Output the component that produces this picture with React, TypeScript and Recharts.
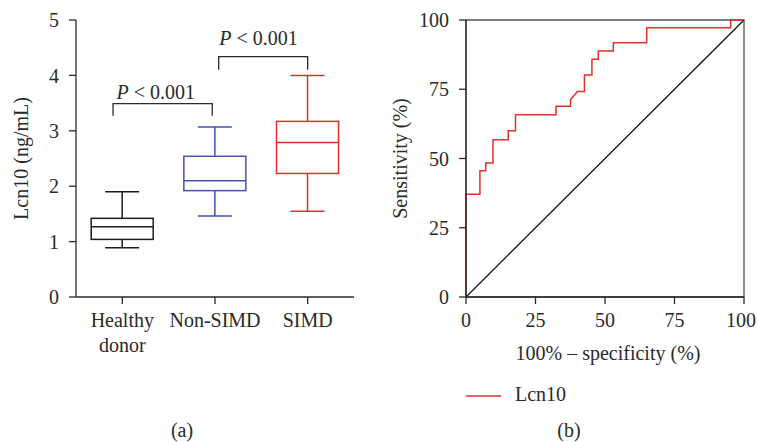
import React from 'react';
import {
  ComposedChart, Bar, Line, XAxis, YAxis, ReferenceDot, ReferenceArea, Legend,
} from 'recharts';

// ---------- Panel (a): box plot data ----------
const groups = ['Healthy donor', 'Non-SIMD', 'SIMD'];
const groupPos = [0.5, 1.5, 2.5];
const minVals = [0.89, 1.46, 1.55];
const q1Vals = [1.04, 1.92, 2.23];
const medianVals = [1.27, 2.1, 2.79];
const q3Vals = [1.42, 2.54, 3.17];
const maxVals = [1.9, 3.07, 4.0];
const yTicksA = [0, 1, 2, 3, 4, 5];

// significance brackets (x in group units, y in ng/mL)
const bracket1X = [0.4, 0.4, 1.47, 1.47];
const bracket1Y = [3.27, 3.49, 3.49, 3.27];
const bracket2X = [1.54, 1.54, 2.5, 2.5];
const bracket2Y = [4.1, 4.34, 4.34, 4.1];
const pLabelX = [0.86, 1.97];
const pLabelY = [3.57, 4.55];
const pLabelText = ['0.001', '0.001'];

// ---------- Panel (b): ROC data ----------
const rocFpr = [0, 0, 5.0, 5.0, 7.1, 7.1, 9.7, 9.7, 15.2, 15.2, 17.8, 17.8, 32.4, 32.4, 37.6, 37.6, 40.1, 42.6, 42.6, 45.3, 45.3, 47.6, 47.6, 53.0, 53.0, 65.0, 65.0, 95.2, 95.2, 100];
const rocTpr = [0, 37.1, 37.1, 45.6, 45.6, 48.4, 48.4, 56.8, 56.8, 60.0, 60.0, 65.8, 65.8, 68.9, 68.9, 71.3, 74.2, 74.2, 80.1, 80.1, 85.8, 85.8, 88.8, 88.8, 91.8, 91.8, 97.2, 97.2, 100, 100];
const refFpr = [0, 100];
const refTpr = [0, 100];
const ticksB = [0, 25, 50, 75, 100];

const boxColors = ['#1c1c1c', '#4751b3', '#e1312b'];
const RED = '#e1312b';
const AXIS = '#2a2a2a';
const FONT = '"Liberation Serif", "Times New Roman", serif';
const BOX_W = 62;
const CAP_W = 34;
const RIGHT_W = 377;

const boxData = groups.map((g, i) => ({
  name: g,
  pos: groupPos[i],
  range: [minVals[i], maxVals[i]],
  min: minVals[i],
  q1: q1Vals[i],
  median: medianVals[i],
  q3: q3Vals[i],
  max: maxVals[i],
}));
const bracket1 = bracket1X.map((x, i) => ({ pos: x, y: bracket1Y[i] }));
const bracket2 = bracket2X.map((x, i) => ({ pos: x, y: bracket2Y[i] }));
const rocData = rocFpr.map((x, i) => ({ fpr: x, tpr: rocTpr[i] }));
const refData = refFpr.map((x, i) => ({ fpr: x, tpr: refTpr[i] }));

function BoxShape(props: any) {
  const { x, y, width, height, payload, index } = props;
  if (!payload) return null;
  const top = Math.min(y, y + height);
  const h = Math.abs(height);
  const { min, q1, median, q3, max } = payload;
  const toY = (v: number) => top + ((max - v) / (max - min)) * h;
  const cx = x + width / 2;
  const bx = cx - BOX_W / 2;
  const color = boxColors[index % boxColors.length];
  return (
    <g stroke={color} strokeWidth={1.5} fill="none">
      <line x1={cx - CAP_W / 2} x2={cx + CAP_W / 2} y1={toY(max)} y2={toY(max)} />
      <line x1={cx} x2={cx} y1={toY(max)} y2={toY(q3)} />
      <rect x={bx} y={toY(q3)} width={BOX_W} height={toY(q1) - toY(q3)} />
      <line x1={bx} x2={bx + BOX_W} y1={toY(median)} y2={toY(median)} />
      <line x1={cx} x2={cx} y1={toY(q1)} y2={toY(min)} />
      <line x1={cx - CAP_W / 2} x2={cx + CAP_W / 2} y1={toY(min)} y2={toY(min)} />
    </g>
  );
}

function GroupTick(props: any) {
  const { x, y, payload } = props;
  const idx = groupPos.indexOf(payload.value);
  const name = idx >= 0 ? groups[idx] : '';
  const lines = name.split(' ');
  return (
    <text x={x} y={y} textAnchor="middle" fill={AXIS} fontSize={20} fontFamily={FONT}>
      {lines.map((l, i) => (
        <tspan key={i} x={x} dy={i === 0 ? '0.71em' : 25}>{l}</tspan>
      ))}
    </text>
  );
}

// keeps the last label ("100") inside the picture's right edge
function EdgeTick(props: any) {
  const { x, y, payload } = props;
  const tx = Math.min(x, RIGHT_W - 16);
  return (
    <text x={tx} y={y} dy="0.71em" textAnchor="middle" fill={AXIS} fontSize={20} fontFamily={FONT}>
      {payload.value}
    </text>
  );
}

const tickStyle = { fill: AXIS, fontSize: 20, fontFamily: FONT };

function PLabel(text: string) {
  return (p: any) => (
    <text x={p.cx} y={p.cy} textAnchor="middle" fill={AXIS} fontSize={20} fontFamily={FONT}>
      <tspan fontStyle="italic">P</tspan>
      <tspan>{' < ' + text}</tspan>
    </text>
  );
}

function RocLegend(props: any) {
  const items = (props.payload || []).filter((e: any) => e.value === 'Lcn10');
  return (
    <svg width={110} height={26}>
      {items.map((e: any, i: number) => (
        <g key={i}>
          <line x1={0} x2={35} y1={12} y2={12} stroke={e.color} strokeWidth={1.5} />
          <text x={49} y={17} fill={AXIS} fontSize={20} fontFamily={FONT}>{e.value}</text>
        </g>
      ))}
    </svg>
  );
}

export default function App() {
  return (
    <div style={{ position: 'absolute', left: 0, top: 0, width: 757, height: 442, background: '#fff', fontFamily: FONT }}>
      <div style={{ position: 'absolute', left: 0, top: 0 }}>
        <ComposedChart width={380} height={442} data={boxData} margin={{ top: 20, right: 26, bottom: 85, left: 0 }}>
          <XAxis
            type="number"
            dataKey="pos"
            domain={[0, 3]}
            ticks={groupPos}
            tick={<GroupTick />}
            tickSize={7}
            tickMargin={9}
            height={60}
            axisLine={{ stroke: AXIS, strokeWidth: 1.3 }}
            tickLine={{ stroke: AXIS, strokeWidth: 1.3 }}
            interval={0}
            allowDataOverflow
          />
          <YAxis
            type="number"
            domain={[0, 5]}
            ticks={yTicksA}
            width={76}
            tickSize={7}
            tickMargin={10}
            tick={tickStyle}
            axisLine={{ stroke: AXIS, strokeWidth: 1.3 }}
            tickLine={{ stroke: AXIS, strokeWidth: 1.3 }}
            label={{ value: 'Lcn10 (ng/mL)', angle: -90, position: 'insideLeft', offset: 21, textAnchor: 'middle', fill: AXIS, fontSize: 20, fontFamily: FONT }}
          />
          <Bar dataKey="range" barSize={BOX_W} shape={<BoxShape />} isAnimationActive={false} />
          <Line data={bracket1} dataKey="y" type="linear" stroke={AXIS} strokeWidth={1.3} dot={false} activeDot={false} isAnimationActive={false} />
          <Line data={bracket2} dataKey="y" type="linear" stroke={AXIS} strokeWidth={1.3} dot={false} activeDot={false} isAnimationActive={false} />
          {pLabelX.map((px, i) => (
            <ReferenceDot key={i} x={px} y={pLabelY[i]} r={0} ifOverflow="visible" shape={PLabel(pLabelText[i])} />
          ))}
        </ComposedChart>
      </div>
      <div style={{ position: 'absolute', left: 380, top: 0 }}>
        <ComposedChart width={RIGHT_W} height={442} margin={{ top: 20, right: 13, bottom: 75, left: 0 }}>
          <XAxis
            type="number"
            dataKey="fpr"
            domain={[0, 100]}
            ticks={ticksB}
            tickSize={7}
            tickMargin={9}
            height={70}
            tick={<EdgeTick />}
            interval={0}
            axisLine={{ stroke: AXIS, strokeWidth: 1.3 }}
            tickLine={{ stroke: AXIS, strokeWidth: 1.3 }}
            label={{ value: '100% \u2013 specificity (%)', position: 'insideBottom', offset: 7, dx: 3, fill: AXIS, fontSize: 20, fontFamily: FONT }}
          />
          <YAxis
            type="number"
            domain={[0, 100]}
            ticks={ticksB}
            width={86}
            tickSize={7}
            tickMargin={10}
            tick={tickStyle}
            interval={0}
            axisLine={{ stroke: AXIS, strokeWidth: 1.3 }}
            tickLine={{ stroke: AXIS, strokeWidth: 1.3 }}
            label={{ value: 'Sensitivity (%)', angle: -90, position: 'insideLeft', offset: 20, textAnchor: 'middle', fill: AXIS, fontSize: 20, fontFamily: FONT }}
          />
          <ReferenceArea x1={0} x2={100} y1={0} y2={100} fill="none" stroke="#555" strokeWidth={1.3} ifOverflow="visible" />
          <Line data={refData} dataKey="tpr" name="ref" legendType="none" type="linear" stroke="#111" strokeWidth={1.3} dot={false} activeDot={false} isAnimationActive={false} />
          <Line data={rocData} dataKey="tpr" name="Lcn10" type="linear" stroke={RED} strokeWidth={1.5} dot={false} activeDot={false} isAnimationActive={false} />
          <Legend
            layout="horizontal"
            verticalAlign="middle"
            align="center"
            content={<RocLegend />}
            wrapperStyle={{ left: 86, top: 384, width: 120, height: 26 }}
          />
        </ComposedChart>
      </div>
      <svg width={757} height={442} style={{ position: 'absolute', left: 0, top: 0, pointerEvents: 'none' }}>
        <text x={182} y={437} textAnchor="middle" fill={AXIS} fontSize={20} fontFamily={FONT}>(a)</text>
        <text x={569} y={437} textAnchor="middle" fill={AXIS} fontSize={20} fontFamily={FONT}>(b)</text>
      </svg>
    </div>
  );
}
